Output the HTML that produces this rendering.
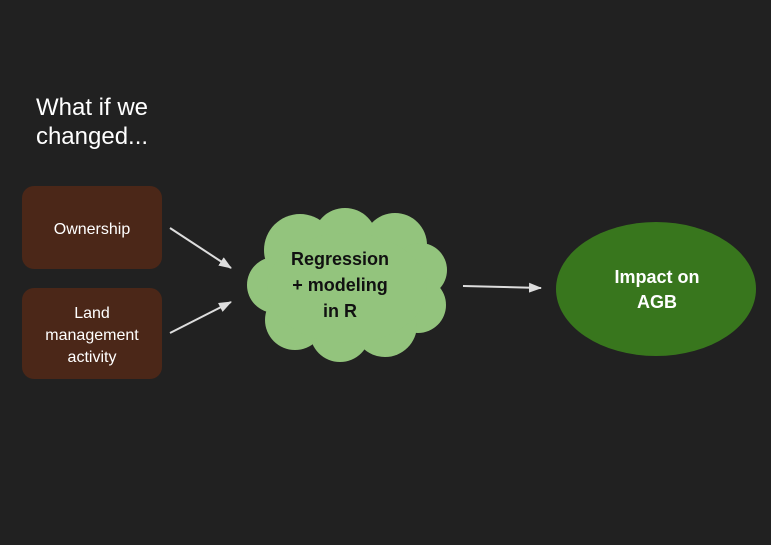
<!DOCTYPE html>
<html><head><style>
body{margin:0;background:#212121;width:771px;height:540px;overflow:hidden;font-family:"Liberation Sans",sans-serif}
</style></head><body>
<svg width="771" height="540" xmlns="http://www.w3.org/2000/svg">
<rect width="771" height="540" fill="#212121"/>
<text x="92" y="115" fill="#fff" font-size="24" text-anchor="middle" font-family="Liberation Sans">What if we</text>
<text x="92" y="144" fill="#fff" font-size="24" text-anchor="middle" font-family="Liberation Sans">changed...</text>
<rect x="22" y="186" width="140" height="83" rx="12" fill="#4b2718"/>
<text x="92" y="234" fill="#fff" font-size="16" text-anchor="middle">Ownership</text>
<rect x="22" y="288" width="140" height="91" rx="12" fill="#4b2718"/>
<text x="92" y="318" fill="#fff" font-size="16" text-anchor="middle">Land</text>
<text x="92" y="340" fill="#fff" font-size="16" text-anchor="middle">management</text>
<text x="92" y="362" fill="#fff" font-size="16" text-anchor="middle">activity</text>
<g fill="#93c47d">
<circle cx="300" cy="250" r="36"/>
<circle cx="345" cy="240" r="32"/>
<circle cx="395" cy="245" r="32"/>
<circle cx="420" cy="270" r="27"/>
<circle cx="418" cy="305" r="28"/>
<circle cx="385" cy="325" r="32"/>
<circle cx="340" cy="332" r="30"/>
<circle cx="295" cy="320" r="30"/>
<circle cx="275" cy="285" r="28"/>
<ellipse cx="347" cy="288" rx="80" ry="55"/>
</g>
<g font-weight="bold" font-size="18" fill="#111" text-anchor="middle">
<text x="340" y="265">Regression</text>
<text x="340" y="291">+ modeling</text>
<text x="340" y="317">in R</text>
</g>
<ellipse cx="656" cy="289" rx="100" ry="67" fill="#38761d"/>
<g font-weight="bold" font-size="18" fill="#fff" text-anchor="middle">
<text x="657" y="283">Impact on</text>
<text x="657" y="308">AGB</text>
</g>
<defs><marker id="a" markerWidth="13" markerHeight="10" refX="12" refY="5" orient="auto" markerUnits="userSpaceOnUse"><path d="M0,0L13,5L0,10z" fill="#ddd"/></marker></defs>
<g stroke="#ddd" stroke-width="2" marker-end="url(#a)">
<line x1="170" y1="228" x2="231" y2="268"/>
<line x1="170" y1="333" x2="231" y2="302"/>
<line x1="463" y1="286" x2="541" y2="288"/>
</g>
</svg>
</body></html>
